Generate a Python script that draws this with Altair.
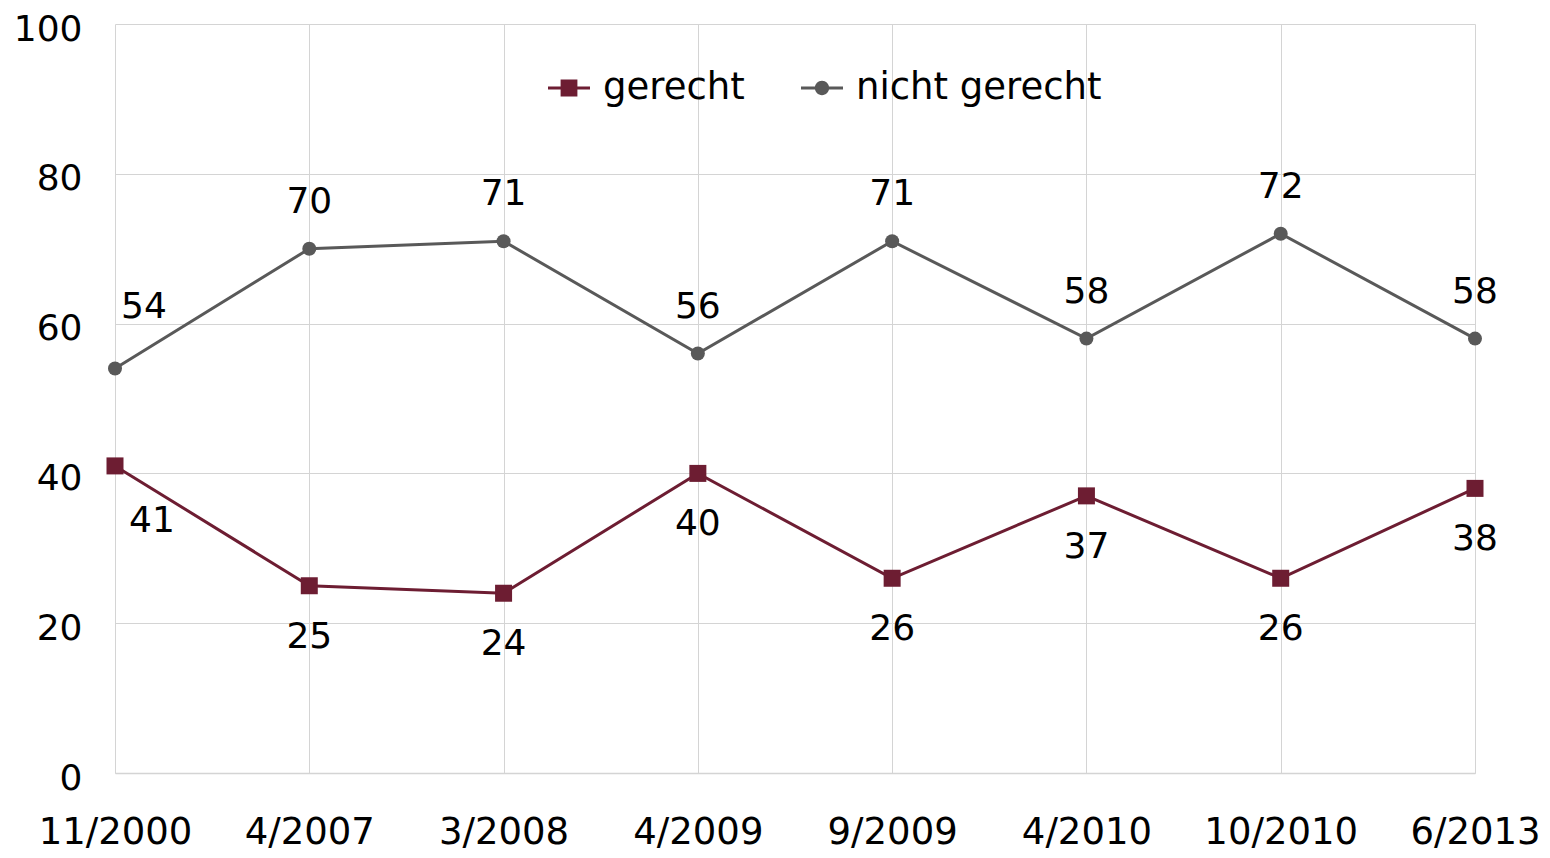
import altair as alt
import pandas as pd

dates = ["11/2000", "4/2007", "3/2008", "4/2009", "9/2009", "4/2010", "10/2010", "6/2013"]
gerecht = [41, 25, 24, 40, 26, 37, 26, 38]
nicht_gerecht = [54, 70, 71, 56, 71, 58, 72, 58]
series = ["gerecht", "nicht gerecht"]
colors = ["#6d1d32", "#595959"]

rows = []
for d, g, n in zip(dates, gerecht, nicht_gerecht):
    rows.append({"date": d, "series": "gerecht", "value": g})
    rows.append({"date": d, "series": "nicht gerecht", "value": n})
df = pd.DataFrame(rows)

FONT = "DejaVu Sans"
GRID = "#d4d4d4"

x = alt.X(
    "date:N", sort=dates, scale=alt.Scale(padding=0),
    axis=alt.Axis(title=None, labelAngle=0, labelFontSize=37, labelFont=FONT,
                  labelColor="black", labelPadding=41, ticks=False, grid=True,
                  gridColor=GRID, domainColor=GRID, domainWidth=1.5, labelLimit=0),
)
y = alt.Y(
    "value:Q", scale=alt.Scale(domain=[0, 100]),
    axis=alt.Axis(title=None, values=[0, 20, 40, 60, 80, 100], labelFontSize=36,
                  labelFont=FONT, labelColor="black", labelPadding=33, labelOffset=5,
                  ticks=False, domain=False, gridColor=GRID),
)
cscale = alt.Scale(domain=series, range=colors)
color_nolegend = alt.Color("series:N", scale=cscale, legend=None)

base = alt.Chart(df)

lines = base.mark_line(strokeWidth=3).encode(x=x, y=y, color=color_nolegend, detail="series:N")
points = base.mark_point(filled=True, opacity=1).encode(
    x=x, y=y, color=color_nolegend,
    shape=alt.Shape("series:N", scale=alt.Scale(domain=series, range=["square", "circle"]), legend=None),
    size=alt.Size("series:N", scale=alt.Scale(domain=series, range=[289, 196]), legend=None),
)

first = dates[0]
top_sel = (alt.datum.series == "nicht gerecht") & (alt.datum.date != first)
bot_sel = (alt.datum.series == "gerecht") & (alt.datum.date != first)
top_first = (alt.datum.series == "nicht gerecht") & (alt.datum.date == first)
bot_first = (alt.datum.series == "gerecht") & (alt.datum.date == first)

def labels(sel, dx, dy):
    return base.transform_filter(sel).mark_text(
        dx=dx, dy=dy, fontSize=36, font=FONT, color="black"
    ).encode(x=x, y=y, text="value:Q")

sq_path = "M-1,-0.075H1V0.075H-1Z M-0.4,-0.4H0.4V0.4H-0.4Z"
ci_path = "M-1,-0.075H1V0.075H-1Z M-0.34,0 A0.34,0.34 0 1,1 0.34,0 A0.34,0.34 0 1,1 -0.34,0 Z"

leg = alt.Legend(orient="none", legendX=433, legendY=43, direction="horizontal", title=None,
                 labelFontSize=37, labelFont=FONT, labelColor="black", symbolSize=1764,
                 symbolStrokeWidth=0, symbolOpacity=1, labelOffset=13, columnPadding=56,
                 padding=0, labelLimit=0)
ghost = base.transform_filter("false").mark_point(filled=True, opacity=1).encode(
    x=x, y=y,
    color=alt.Color("series:N", scale=alt.Scale(domain=series, range=colors), legend=leg),
    shape=alt.Shape("series:N", scale=alt.Scale(domain=series, range=[sq_path, ci_path]), legend=leg),
)

chart = alt.layer(
    lines, points,
    labels(top_sel, 0, -47), labels(bot_sel, 0, 51),
    labels(top_first, 29, -62), labels(bot_first, 37, 55),
    ghost,
).resolve_scale(
    color="independent", shape="independent"
).resolve_legend(color="independent", shape="independent").properties(
    width=1360, height=749,
    autosize=alt.AutoSizeParams(type="none"),
    padding={"left": 107, "top": 16, "right": 66, "bottom": 85},
).configure_view(stroke=None)

chart.save("out.html", embed_options={"renderer": "svg", "actions": False})
